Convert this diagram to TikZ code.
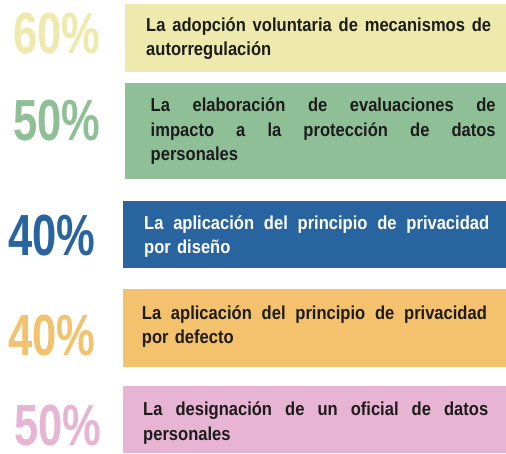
\documentclass[tikz,border=0pt]{standalone}
\usepackage{fontspec}
\newfontfamily\pctfont[FakeStretch=0.75]{Liberation Sans}
\newfontfamily\bodyfont[FakeStretch=0.88]{Liberation Sans}
\definecolor{cyel}{HTML}{EEE9AC}
\definecolor{cgrn}{HTML}{8FBF96}
\definecolor{cblu}{HTML}{2864A0}
\definecolor{cora}{HTML}{F4C16D}
\definecolor{cpnk}{HTML}{E8B4D4}
\definecolor{ctext}{HTML}{1C1C1C}
\newcommand{\jline}[1]{\leavevmode\hbox to 345pt{\spaceskip=\fontdimen2\font plus 1fil\relax #1}}
\begin{document}
\begin{tikzpicture}[x=1pt,y=-1pt,
  pct/.style={anchor=base west, inner sep=0pt, text depth=0pt, font=\pctfont\bfseries\fontsize{58}{58}\selectfont},
  txt/.style={anchor=base west, inner sep=0pt, text width=345pt, align=left,
    font=\bodyfont\bfseries\fontsize{18.8}{24.5}\selectfont, text=ctext}]
\useasboundingbox (0,0) rectangle (506,453);
\fill[white] (0,0) rectangle (506,453);
% bars
\fill[cyel] (125,4) rectangle (506,72);
\fill[cgrn] (125,82.5) rectangle (506,179);
\fill[cblu] (123,201) rectangle (506,268);
\fill[cora] (123,289) rectangle (506,367);
\fill[cpnk] (123,386) rectangle (506,453);
% percentages
\node[pct, text=cyel] (p1) at (13.3,53) {60\%};
\node[pct, text=cgrn] (p2) at (13.3,140) {50\%};
\node[pct, text=cblu] (p3) at (8,255) {40\%};
\node[pct, text=cora] (p4) at (8,355) {40\%};
\node[pct, text=cpnk] (p5) at (14.3,445) {50\%};
% texts
\node[txt] (t1) at (146,31) {\jline{La adopción voluntaria de mecanismos de}\\autorregulación};
\node[txt] (t2) at (150.5,111.7) {\jline{La elaboración de evaluaciones de}\\\jline{impacto a la protección de datos}\\personales};
\node[txt, text=white] (t3) at (144,229.3) {\jline{La aplicación del principio de privacidad}\\por diseño};
\node[txt] (t4) at (141.7,319) {\jline{La aplicación del principio de privacidad}\\por defecto};
\node[txt] (t5) at (143,415.7) {\jline{La designación de un oficial de datos}\\personales};
\end{tikzpicture}
\end{document}
